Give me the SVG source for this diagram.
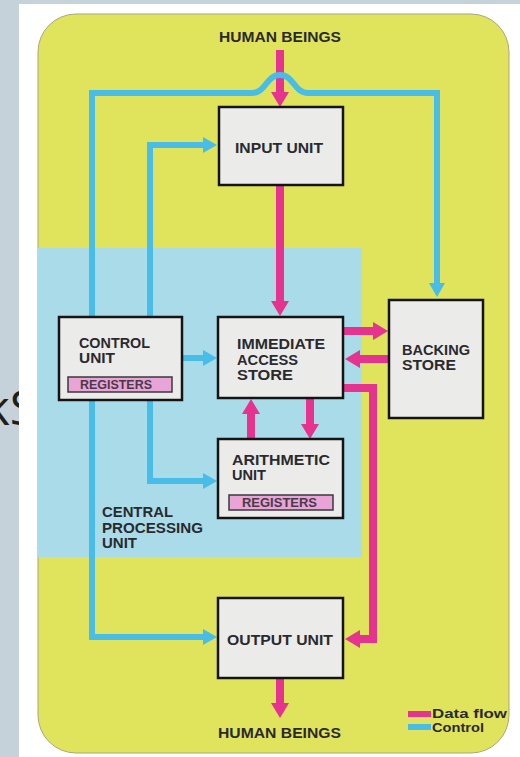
<svg xmlns="http://www.w3.org/2000/svg" width="520" height="757" viewBox="0 0 520 757">
<style>
.lbl{font-family:"Liberation Sans",Arial,sans-serif;font-weight:bold;font-size:14px;fill:#2a2a2e}
.leg{font-family:"Liberation Sans",Arial,sans-serif;font-weight:bold;font-size:12px;fill:#2a2a2e}
.reg{font-family:"Liberation Sans",Arial,sans-serif;font-weight:bold;font-size:12px;fill:#4a3a48}
.box{fill:#ebebea;stroke:#141414;stroke-width:2.5}
.regbox{fill:#e8a4d6;stroke:#3a3a3a;stroke-width:1.5}
.pink{fill:none;stroke:#e5338f;stroke-width:8;stroke-linejoin:miter}
.blue{fill:none;stroke:#47bde8;stroke-width:6;stroke-linejoin:miter}
</style>
<defs>
<marker id="ph" markerUnits="userSpaceOnUse" markerWidth="16" markerHeight="18" refX="0" refY="9" orient="auto"><path d="M0,0 L15,9 L0,18 z" fill="#e5338f"/></marker>
<marker id="bh" markerUnits="userSpaceOnUse" markerWidth="15" markerHeight="16" refX="0" refY="8" orient="auto"><path d="M0,0 L14,8 L0,16 z" fill="#47bde8"/></marker>
</defs>
<rect x="0" y="0" width="520" height="757" fill="#c6d2d9"/>
<text x="36" y="425" text-anchor="end" font-family="'Open Sans','DejaVu Sans',sans-serif" font-size="48" fill="#1e1e1e">kS</text>
<rect x="19" y="4" width="501" height="753" fill="#ffffff"/>
<rect id="card" x="38" y="14" width="471" height="739" rx="38" ry="38" fill="#e0e35c" stroke="#a8a87a" stroke-width="1"/>
<rect id="cpu-region" x="38" y="248" width="324" height="309" fill="#a9dbe8"/>

<g id="connectors">
<path class="pink" d="M280,50 V92" marker-end="url(#ph)"/>
<path class="pink" d="M280,186 V301" marker-end="url(#ph)"/>
<path class="pink" d="M344,331 H373" marker-end="url(#ph)"/>
<path class="pink" d="M388,359 H360" marker-end="url(#ph)"/>
<path class="pink" d="M344,388 H373 V639 H360" marker-end="url(#ph)"/>
<path class="pink" d="M251,438 V414" marker-end="url(#ph)"/>
<path class="pink" d="M310,399 V424" marker-end="url(#ph)"/>
<path class="pink" d="M280,679 V703" marker-end="url(#ph)"/>
<path class="blue" d="M92,93 V637 H203" marker-end="url(#bh)"/>
<path class="blue" d="M89,93 H252 C266,93 266,75 280,75 C294,75 294,93 308,93 H437 V283" marker-end="url(#bh)"/>
<path class="blue" d="M150,145 H203" marker-end="url(#bh)"/>
<path class="blue" d="M150,142 V481 H203" marker-end="url(#bh)"/>
<path class="blue" d="M183,358 H203" marker-end="url(#bh)"/>
</g>

<g id="human-beings-top"><text class="lbl" x="219" y="42" textLength="122" lengthAdjust="spacingAndGlyphs">HUMAN BEINGS</text></g>

<g id="input-unit">
<rect class="box" x="219" y="107" width="124" height="78"/>
<text class="lbl" x="235" y="153" textLength="88" lengthAdjust="spacingAndGlyphs">INPUT UNIT</text>
</g>

<g id="control-unit">
<rect class="box" x="59" y="317" width="123" height="83"/>
<text class="lbl" x="79" y="348" textLength="71" lengthAdjust="spacingAndGlyphs">CONTROL</text>
<text class="lbl" x="79" y="363" textLength="36" lengthAdjust="spacingAndGlyphs">UNIT</text>
<rect class="regbox" x="68" y="377" width="104" height="15"/>
<text class="reg" x="80" y="389" textLength="72" lengthAdjust="spacingAndGlyphs">REGISTERS</text>
</g>

<g id="immediate-access-store">
<rect class="box" x="218" y="317" width="125" height="81"/>
<text class="lbl" x="237" y="349" textLength="88" lengthAdjust="spacingAndGlyphs">IMMEDIATE</text>
<text class="lbl" x="237" y="365" textLength="61" lengthAdjust="spacingAndGlyphs">ACCESS</text>
<text class="lbl" x="237" y="380" textLength="56" lengthAdjust="spacingAndGlyphs">STORE</text>
</g>

<g id="backing-store">
<rect class="box" x="389" y="300" width="94" height="118"/>
<text class="lbl" x="402" y="355" textLength="68" lengthAdjust="spacingAndGlyphs">BACKING</text>
<text class="lbl" x="402" y="370" textLength="54" lengthAdjust="spacingAndGlyphs">STORE</text>
</g>

<g id="arithmetic-unit">
<rect class="box" x="218" y="439" width="125" height="79"/>
<text class="lbl" x="232" y="465" textLength="98" lengthAdjust="spacingAndGlyphs">ARITHMETIC</text>
<text class="lbl" x="232" y="480" textLength="34" lengthAdjust="spacingAndGlyphs">UNIT</text>
<rect class="regbox" x="229" y="495" width="104" height="15"/>
<text class="reg" x="242" y="507" textLength="75" lengthAdjust="spacingAndGlyphs">REGISTERS</text>
</g>

<g id="cpu-label">
<text class="lbl" x="102" y="517" textLength="71" lengthAdjust="spacingAndGlyphs">CENTRAL</text>
<text class="lbl" x="102" y="533" textLength="101" lengthAdjust="spacingAndGlyphs">PROCESSING</text>
<text class="lbl" x="102" y="548" textLength="35" lengthAdjust="spacingAndGlyphs">UNIT</text>
</g>

<g id="output-unit">
<rect class="box" x="218" y="598" width="125" height="80"/>
<text class="lbl" x="227" y="645" textLength="106" lengthAdjust="spacingAndGlyphs">OUTPUT UNIT</text>
</g>

<g id="human-beings-bottom"><text class="lbl" x="218" y="738" textLength="123" lengthAdjust="spacingAndGlyphs">HUMAN BEINGS</text></g>

<g id="legend">
<rect x="408" y="711" width="23" height="6" fill="#e5338f"/>
<text class="leg" x="432" y="718" textLength="75" lengthAdjust="spacingAndGlyphs">Data flow</text>
<rect x="408" y="724" width="23" height="6" fill="#47bde8"/>
<text class="leg" x="432" y="732" textLength="52" lengthAdjust="spacingAndGlyphs">Control</text>
</g>
</svg>
